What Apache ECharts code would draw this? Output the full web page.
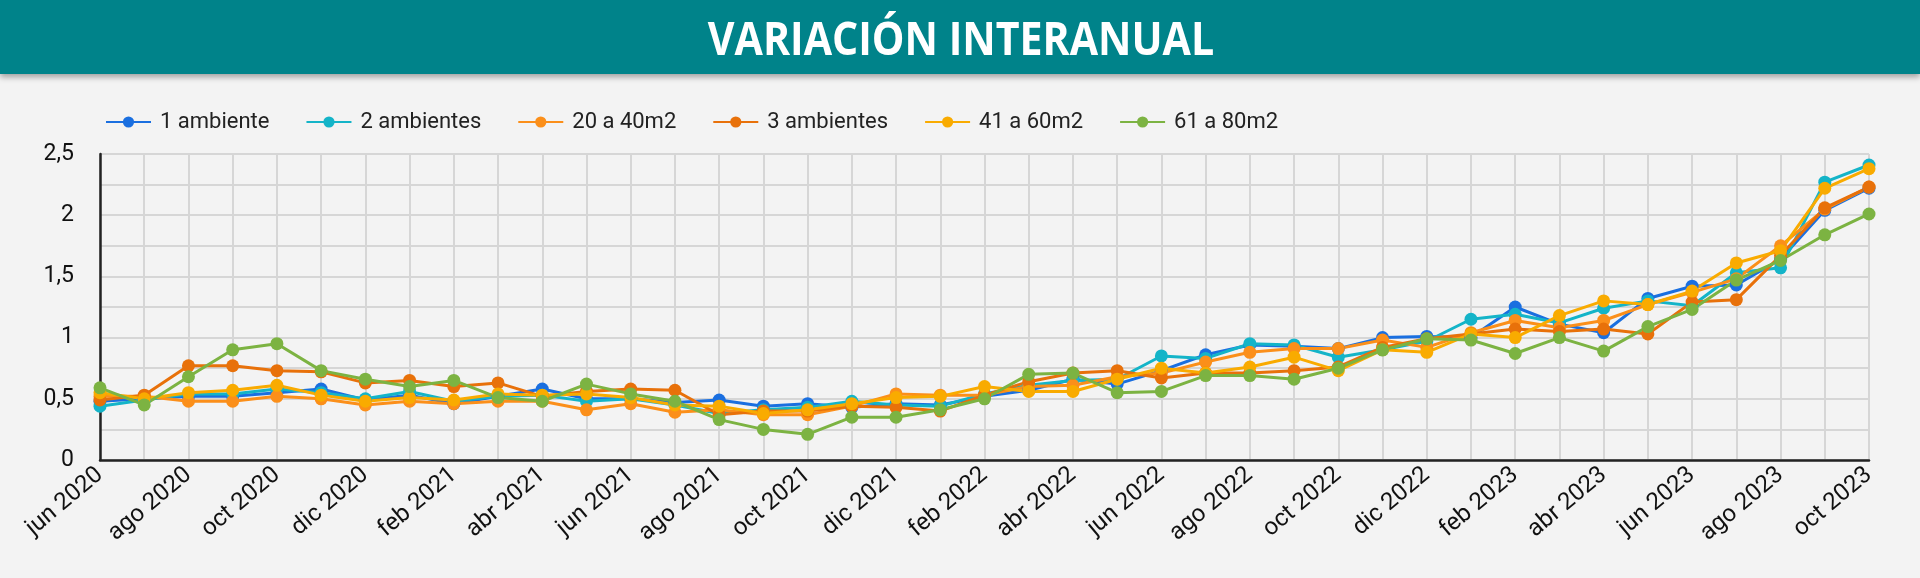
<!DOCTYPE html>
<html>
<head>
<meta charset="utf-8">
<script src="https://cdn.jsdelivr.net/npm/echarts@6/dist/echarts.min.js"></script>
<style>
html,body{margin:0;padding:0;background:#f3f3f3;}
#chart{width:1920px;height:578px;}
</style>
</head>
<body>
<div id="chart"></div>
<script>
const months = ['jun 2020','jul 2020','ago 2020','sep 2020','oct 2020','nov 2020','dic 2020',
 'ene 2021','feb 2021','mar 2021','abr 2021','may 2021','jun 2021','jul 2021','ago 2021','sep 2021','oct 2021','nov 2021','dic 2021',
 'ene 2022','feb 2022','mar 2022','abr 2022','may 2022','jun 2022','jul 2022','ago 2022','sep 2022','oct 2022','nov 2022','dic 2022',
 'ene 2023','feb 2023','mar 2023','abr 2023','may 2023','jun 2023','jul 2023','ago 2023','sep 2023','oct 2023'];

const amb1 = [0.48,0.50,0.52,0.52,0.55,0.58,0.49,0.53,0.46,0.52,0.58,0.50,0.50,0.47,0.49,0.44,0.46,0.43,0.46,0.45,0.52,0.57,0.66,0.62,0.73,0.86,0.94,0.93,0.91,1.00,1.01,1.00,1.25,1.11,1.04,1.32,1.42,1.43,1.64,2.04,2.22];
const amb2 = [0.44,0.49,0.54,0.54,0.58,0.55,0.50,0.56,0.48,0.52,0.53,0.48,0.50,0.45,0.38,0.41,0.43,0.48,0.45,0.44,0.54,0.61,0.65,0.66,0.85,0.83,0.95,0.94,0.84,0.90,0.97,1.15,1.19,1.12,1.24,1.30,1.26,1.53,1.57,2.27,2.41];
const m20a40 = [0.52,0.52,0.48,0.48,0.52,0.50,0.45,0.48,0.46,0.48,0.48,0.41,0.46,0.39,0.41,0.37,0.37,0.44,0.54,0.53,0.53,0.60,0.61,0.68,0.71,0.80,0.88,0.91,0.91,0.98,0.92,1.04,1.14,1.08,1.14,1.27,1.37,1.48,1.75,2.05,2.23];
const amb3 = [0.49,0.53,0.77,0.77,0.73,0.72,0.63,0.65,0.60,0.63,0.52,0.56,0.58,0.57,0.37,0.40,0.40,0.44,0.43,0.40,0.53,0.64,0.71,0.73,0.67,0.71,0.71,0.73,0.76,0.92,0.99,1.03,1.07,1.05,1.07,1.03,1.29,1.31,1.67,2.06,2.23];
const m41a60 = [0.55,0.50,0.55,0.57,0.61,0.53,0.48,0.51,0.49,0.54,0.53,0.54,0.51,0.45,0.44,0.38,0.41,0.46,0.51,0.52,0.60,0.56,0.56,0.66,0.75,0.71,0.76,0.84,0.73,0.90,0.88,1.03,1.00,1.18,1.30,1.27,1.38,1.61,1.71,2.22,2.38];
const m61a80 = [0.59,0.45,0.68,0.90,0.95,0.73,0.66,0.60,0.65,0.51,0.48,0.62,0.54,0.48,0.33,0.25,0.21,0.35,0.35,0.41,0.50,0.70,0.71,0.55,0.56,0.69,0.69,0.66,0.75,0.90,0.99,0.98,0.87,1.00,0.89,1.09,1.23,1.47,1.63,1.84,2.01];

const seriesNames = ['1 ambiente','2 ambientes','20 a 40m2','3 ambientes','41 a 60m2','61 a 80m2'];
const seriesData = [amb1, amb2, m20a40, amb3, m41a60, m61a80];
const colors = ['#1a6fe0','#14b4c8','#fb8f1a','#e8710a','#f9ab00','#7cb342'];
const titleText = 'VARIACIÓN INTERANUAL';

const chart = echarts.init(document.getElementById('chart'));
chart.setOption({
  backgroundColor: '#f3f3f3',
  color: colors,
  animation: false,
  graphic: [{
    type: 'rect',
    shape: {x: 0, y: 0, width: 1920, height: 74},
    style: {fill: '#00838a', shadowBlur: 6, shadowOffsetY: 3, shadowColor: 'rgba(0,0,0,0.35)'},
    z: 0
  }, {
    type: 'text',
    x: 961, y: 42,
    scaleX: 0.875,
    style: {text: titleText, fill: '#ffffff', font: 'bold 47px "Open Sans"', textAlign: 'center', textVerticalAlign: 'middle', verticalAlign: 'middle', align: 'center'},
    z: 2
  }],
  legend: {
    left: 100,
    top: 106,
    itemWidth: 45,
    itemHeight: 14,
    itemGap: 36,
    textStyle: {fontSize: 22, color: '#222', fontFamily: 'Roboto', padding: [0, 0, 0, 4]},
    data: seriesNames
  },
  grid: {left: 100, right: 51, top: 154, bottom: 118, containLabel: false},
  xAxis: {
    type: 'category',
    data: months,
    boundaryGap: false,
    axisLine: {lineStyle: {color: '#222', width: 2.5}},
    axisTick: {show: false},
    axisLabel: {interval: 1, rotate: 40, fontSize: 24, color: '#111', fontFamily: 'Roboto', margin: 12},
    splitLine: {show: true, interval: 0, lineStyle: {color: '#d6d6d6', width: 2}}
  },
  yAxis: {
    type: 'value',
    min: 0, max: 2.5, interval: 0.25,
    axisLine: {show: true, lineStyle: {color: '#222', width: 2.5}},
    axisTick: {show: false},
    axisLabel: {
      fontSize: 23, color: '#111', fontFamily: 'Roboto', margin: 26,
      formatter: function (v) { return (Math.round(v * 100) % 50 === 0) ? String(v).replace('.', ',') : ''; }
    },
    splitLine: {show: true, lineStyle: {color: '#d6d6d6', width: 2}}
  },
  series: seriesNames.map(function (n, i) {
    return {
      name: n, type: 'line', data: seriesData[i],
      symbol: 'circle', symbolSize: 13,
      lineStyle: {width: 3},
      itemStyle: {color: colors[i]}
    };
  })
});
</script>
</body>
</html>
